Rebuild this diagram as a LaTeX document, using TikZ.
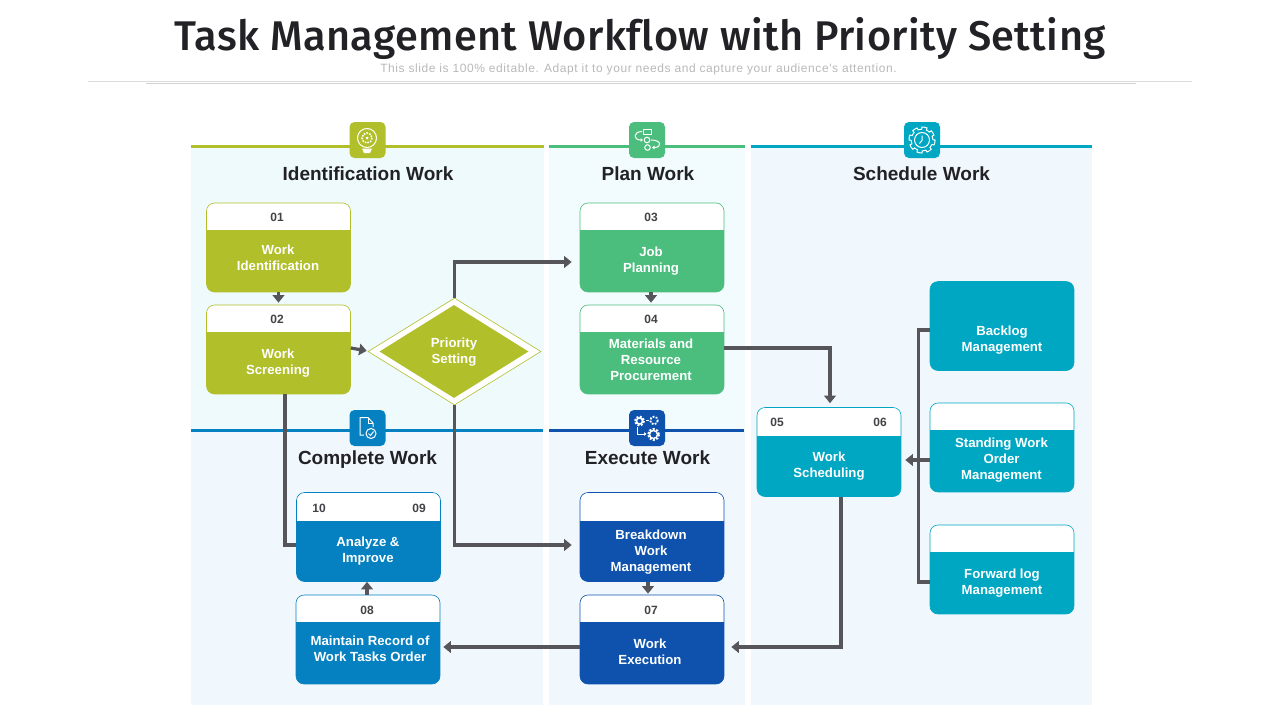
\documentclass[tikz,border=0pt]{standalone}
\usepackage{fontspec}
\setmainfont{Liberation Sans}
\newfontfamily\titlefont[LetterSpace=1,Ligatures=NoCommon]{Fira Sans Medium}
\newfontfamily\subfont[LetterSpace=4.8]{Liberation Sans}
\usetikzlibrary{calc, positioning, arrows.meta, shapes.geometric}
\definecolor{limeC}{RGB}{177, 191, 42}
\definecolor{greenC}{RGB}{75, 190, 126}
\definecolor{tealC}{RGB}{0, 167, 195}
\definecolor{blueC}{RGB}{5, 129, 193}
\definecolor{navyC}{RGB}{15, 82, 174}
\definecolor{arrowC}{RGB}{85, 85, 90}
\definecolor{inkC}{RGB}{34, 34, 38}
\definecolor{panelA}{RGB}{238, 250, 252}
\definecolor{panelB}{RGB}{242, 251, 253}
\definecolor{panelC}{RGB}{241, 248, 253}
\tikzset{
  card/.style 2 args={draw=#1, fill=white, line width=0.6pt, rounded corners=8pt, minimum width=144pt, minimum height=89pt, inner sep=0pt,
    path picture={\fill[#1, sharp corners] ([yshift=-#2]path picture bounding box.north west) rectangle (path picture bounding box.south east);}},
  cardtext/.style={text=white, font=\bfseries\fontsize{13.2}{16}\selectfont, align=center, inner sep=0pt},
  numtext/.style={text=inkC!85, font=\bfseries\fontsize{12}{14}\selectfont, inner sep=0pt},
  headtext/.style={text=inkC, font=\bfseries\fontsize{19}{22}\selectfont, inner sep=0pt},
  iconbox/.style={fill=#1, rounded corners=5pt, minimum size=36pt, inner sep=0pt},
  link/.style={draw=arrowC, line width=3.2pt},
  linkto/.style={link, -{Triangle[width=11.5pt, length=7.5pt]}},
  glyph/.style={draw=white, line width=1pt}
}
\begin{document}
\begin{tikzpicture}[x=1pt, y=-1pt]
  \useasboundingbox (0,0) rectangle (1280,720);
  % Title
  \node[text=inkC, font=\titlefont\fontsize{41.5}{44}\selectfont, inner sep=0pt] (title) at (640,38) {Task Management Workflow with Priority Setting};
  \node[text=black!28, font=\subfont\fontsize{12}{14}\selectfont, inner sep=0pt] (subtitle) at (638.5,69) {This slide is 100\% editable. Adapt it to your needs and capture your audience's attention.};
  \draw[black!14, line width=0.8pt] (88,81.5) -- (1192,81.5);
  \draw[black!18, line width=0.6pt] (146,83) -- (1136,83);

  % Panels
  \fill[panelA] (191,146) rectangle (544,430);
  \fill[panelB] (549,146) rectangle (745,430);
  \fill[panelC] (751,146) rectangle (1092,705);
  \fill[panelC] (191,430) rectangle (543,705);
  \fill[panelC] (549,430) rectangle (745,705);
  \draw[limeC, line width=3pt] (191,146.5) -- (544,146.5);
  \draw[greenC, line width=3pt] (549,146.5) -- (745,146.5);
  \draw[tealC, line width=3pt] (751,146.5) -- (1092,146.5);
  \draw[blueC, line width=3pt] (191,430.5) -- (543,430.5);
  \draw[navyC, line width=3pt] (549,430.5) -- (744,430.5);

  % Headings
  \node[headtext] (headA) at (368,173.5) {Identification Work};
  \node[headtext] (headB) at (648,173.5) {Plan Work};
  \node[headtext] (headC) at (921.5,173.5) {Schedule Work};
  \node[headtext] (headD) at (367.5,459.5) {Complete Work};
  \node[headtext] (headE) at (647.5,457.5) {Execute Work};

  % Cards
  \node[card={limeC}{27pt}] (w01) at (278.5,247.5) {};
  \node[card={limeC}{27pt}] (w02) at (278.5,349.5) {};
  \node[card={greenC}{27pt}] (w03) at (652,247.5) {};
  \node[card={greenC}{27pt}] (w04) at (652,349.5) {};
  \node[card={tealC}{0pt}] (backlog) at (1002,326) {};
  \node[card={tealC}{27pt}] (standing) at (1002,447.5) {};
  \node[card={tealC}{27pt}] (forward) at (1002,569.5) {};
  \node[card={tealC}{28pt}] (w05) at (829,452) {};
  \node[card={blueC}{28pt}] (w10) at (368.5,537) {};
  \node[card={blueC}{27pt}] (w08) at (368,639.5) {};
  \node[card={navyC}{28pt}] (breakdown) at (652,537) {};
  \node[card={navyC}{27pt}] (w07) at (652,639.5) {};

  % Priority diamond
  \node[diamond, draw=limeC, fill=white, line width=0.6pt, aspect=1.62, minimum width=173pt, minimum height=107pt, inner sep=0pt] (prioOut) at (454.5,351.5) {};
  \node[diamond, fill=limeC, aspect=1.6, minimum width=149pt, minimum height=93pt, inner sep=0pt] (prio) at (454,351.5) {};

  % Connectors
  \draw[linkto, shorten >=2pt] (w01.south) -- (w02.north);
  \draw[linkto, shorten >=1pt] ([yshift=1.5pt]w02.east) -- (prioOut.west |- {$(w02.east)+(0,-1.5pt)$});
  \draw[linkto, shorten >=8pt] (prioOut.north) |- ([yshift=-14.5pt]w03.west);
  \draw[linkto, shorten >=2pt] ([xshift=-1pt]w03.south) -- ([xshift=-1pt]w04.north);
  \draw[linkto, shorten >=4pt] ([yshift=1.5pt]w04.east) -| ([xshift=1pt]w05.north);
  \draw[linkto, shorten >=8pt] (prioOut.south) |- ([yshift=-8pt]breakdown.west);
  \draw[link] ([xshift=6.5pt]w02.south) |- ([yshift=-8pt]w10.west);
  \draw[linkto, shorten >=1pt] ([xshift=-4pt]breakdown.south) -- ([xshift=-4pt]w07.north);
  \draw[linkto, shorten >=3pt] ([yshift=-7.5pt]w07.west) -- ([yshift=-7.5pt]w08.east);
  \draw[linkto] ([xshift=-1pt]w08.north) -- ([xshift=-1.5pt]w10.south);
  \draw[linkto, shorten >=7pt] ([xshift=12pt]w05.south) |- ([yshift=-7.5pt]w07.east);
  \draw[linkto, shorten >=4pt] ([yshift=-12.5pt]standing.west) -- ([yshift=-8pt]w05.east);
  \draw[link] ([yshift=-4pt]backlog.west) -| ++(-11,0) |- ([yshift=-12.5pt]forward.west);

  % Numbers
  \node[numtext] (n01) at (277,217) {01};
  \node[numtext] (n02) at (277,319) {02};
  \node[numtext] (n03) at (651,217) {03};
  \node[numtext] (n04) at (651,319) {04};
  \node[numtext] (n05) at (777,422) {05};
  \node[numtext] (n06) at (880,422) {06};
  \node[numtext] (n07) at (651,610) {07};
  \node[numtext] (n08) at (367,610) {08};
  \node[numtext] (n09) at (419,508) {09};
  \node[numtext] (n10) at (319,508) {10};

  % Card labels
  \node[cardtext] (t01) at (278,257.5) {Work\\Identification};
  \node[cardtext] (t02) at (278,363.5) {Work\\Screening};
  \node[cardtext] (t03) at (651,261) {Job\\Planning};
  \node[cardtext] (t04) at (651,360) {Materials and\\Resource\\Procurement};
  \node[cardtext] (tBack) at (1002,340.5) {Backlog\\Management};
  \node[cardtext] (tStand) at (1001.5,460.5) {Standing Work\\Order\\Management};
  \node[cardtext] (tFwd) at (1002,583.5) {Forward log\\Management};
  \node[cardtext] (t05) at (829,466.5) {Work\\Scheduling};
  \node[cardtext] (t10) at (368,551.5) {Analyze \&\\Improve};
  \node[cardtext] (t08) at (370,648.5) {Maintain Record of\\Work Tasks Order};
  \node[cardtext] (tBreak) at (651,552.5) {Breakdown\\Work\\Management};
  \node[cardtext] (t07) at (650,651.5) {Work\\Execution};
  \node[cardtext] (tPrio) at (454,352.5) {Priority\\Setting};

  % Icon boxes
  \node[iconbox=limeC] (iconA) at (367.5,140) {};
  \node[iconbox=greenC] (iconB) at (647,140) {};
  \node[iconbox=tealC] (iconC) at (922,140) {};
  \node[iconbox=blueC] (iconD) at (367.5,428) {};
  \node[iconbox=navyC] (iconE) at (647,428) {};

  % Bulb glyph
  \draw[glyph] (367,138) circle (9.5);
  \draw[glyph, line width=1.6pt, dash pattern=on 1.6pt off 1.2pt] (367,138) circle (5);
  \fill[white] (367,138) circle (1.5);
  \fill[white] (362,148.5) -- (372,148.5) -- (370,153) -- (364,153) -- cycle;

  % Flow glyph
  \draw[glyph] (643,129) rectangle (651,134);
  \draw[glyph] (647,140) circle (2.8);
  \draw[glyph] (647.5,147.5) circle (2.8);
  \draw[glyph, ->, >={Triangle[width=3.5pt, length=2.5pt]}] (642,131.5) .. controls (633,131.5) and (633,140) .. (643,140);
  \draw[glyph, ->, >={Triangle[width=3.5pt, length=2.5pt]}] (651,140) .. controls (662,140) and (662,147.5) .. (652,147.5);

  % Clock gear glyph
  \draw[glyph, shift={(922,140)}] plot[domain=0:360, samples=193] (\x:{13-2.2*(sign(sin(8*\x))<0)}) -- cycle;
  \draw[glyph] (922,140) circle (7.5);
  \draw[glyph] (922,135.5) -- (922,140.5) -- (919.5,143.5);

  % Document glyph
  \draw[glyph] (364,435) -- (360,435) -- (360,417.5) -- (368,417.5) -- (373,423) -- (373,427);
  \draw[glyph] (368,417.5) -- (368,423) -- (373,423);
  \draw[glyph, fill=blueC] (371,433.5) circle (5);
  \draw[glyph] (368.5,433.5) -- (370.5,435.5) -- (373.5,431.5);

  % Gears glyph
  \draw[white, line width=2pt, dash pattern=on 2pt off 1.5pt] (639.5,421) circle (4.5);
  \draw[glyph, line width=1.5pt] (639.5,421) circle (3);
  \draw[white, line width=1.8pt, dash pattern=on 1.8pt off 1.4pt] (654,420.5) circle (3.8);
  \draw[glyph] (646,420.5) -- (649,420.5);
  \draw[white, line width=2pt, dash pattern=on 2pt off 1.5pt] (653.5,434.5) circle (5.5);
  \draw[glyph, line width=1.4pt] (653.5,434.5) circle (4);
  \draw[glyph, ->, >={Triangle[width=3.5pt, length=2.5pt]}] (637.5,427) -- (637.5,434) -- (646.5,434);
\end{tikzpicture}
\end{document}
